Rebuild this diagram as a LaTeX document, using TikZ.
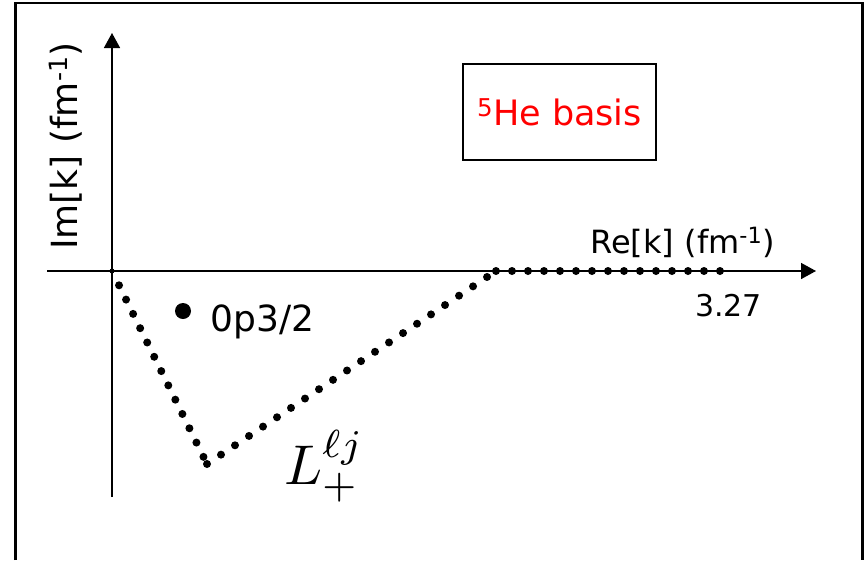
\documentclass[tikz,border=0pt]{standalone}
\usepackage[no-math]{fontspec}
\setmainfont{DejaVu Sans}
\usetikzlibrary{arrows.meta,positioning,calc}

\begin{document}
\begin{tikzpicture}[
  x=1pt, y=-1pt,
  axis/.style={line width=1.6pt, -{Triangle[length=15pt, width=16pt]}},
  dot/.style={circle, fill, inner sep=0pt, minimum size=8pt},
  bigdot/.style={circle, fill, inner sep=0pt, minimum size=16pt},
  tag/.style={draw, line width=2pt, minimum width=193pt, minimum height=96pt, inner sep=0pt},
  lbl/.style={inner sep=0pt, font=\fontsize{32}{36}\selectfont}
]
\useasboundingbox (0,0) rectangle (865,560);
\draw[line width=2.2pt] (15.5,560) -- (15.5,3.3) -- (862.5,3.3) -- (862.5,560);

\coordinate (O) at (112,271);
\coordinate (ybot) at (112,497);
\coordinate (ytop) at (112,33);
\coordinate (xlft) at (47,271);
\coordinate (xrgt) at (816,271);
\coordinate (C) at (207,464);
\coordinate (J) at (496,271);
\coordinate (E) at (720,271);

\draw[axis] (ybot) -- (ytop);
\draw[axis] (xlft) -- (xrgt);

% contour L+
\node[dot, minimum size=5pt] (o) at (O) {};
\foreach \k in {1,...,13}
  \node[dot] (a\k) at ($(O)!\k/13.5!(C)$) {};
\node[dot] (c) at (C) {};
\foreach \k in {1,...,20}
  \node[dot] (b\k) at ($(C)!\k/20.64!(J)$) {};
\node[dot] (j) at (J) {};
\foreach \k in {1,...,14}
  \node[dot] (h\k) at ($(J)!\k/14!(E)$) {};

\node[bigdot] (res) at (183,311) {};
\node[lbl, font=\fontsize{36}{40}\selectfont, right=19pt of res, yshift=-11pt] (reslbl) {0p3/2};

\node[lbl, anchor=base east] (relbl) at (775,253) {Re[k] (fm\textsuperscript{-1})};
\node[lbl, font=\fontsize{30}{34}\selectfont, anchor=base east] (cut) at (762,316) {3.27};
\node[lbl, font=\fontsize{36}{40}\selectfont, rotate=90, anchor=base west] (imlbl) at (77,250) {Im[k] (fm\textsuperscript{-1})};

\node[tag, text=red, font=\fontsize{35}{40}\selectfont] (basis) at (559.5,112) {\textsuperscript{5}He basis};

\node[inner sep=0pt, anchor=base west, font=\normalsize, scale=5.6] (lab) at (283,484) {$L_+^{\ell j}$};
\end{tikzpicture}
\end{document}
